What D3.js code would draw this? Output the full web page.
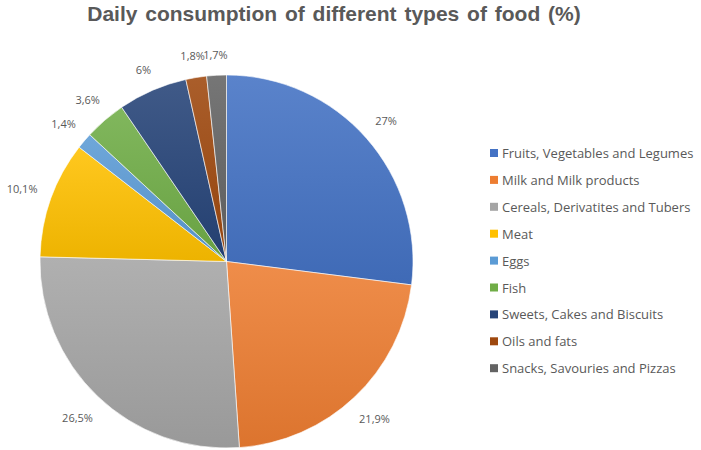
<!DOCTYPE html>
<html>
<head>
<meta charset="utf-8">
<script src="https://cdn.jsdelivr.net/npm/d3@7"></script>
<style>
  html, body { margin: 0; padding: 0; background: #ffffff; }
  svg { display: block; }
</style>
</head>
<body>
<svg id="chart" width="701" height="450"></svg>
<script>
// Food groups and their share of daily consumption (%)
const categories = [
  "Fruits, Vegetables and Legumes",
  "Milk and Milk products",
  "Cereals, Derivatites and Tubers",
  "Meat",
  "Eggs",
  "Fish",
  "Sweets, Cakes and Biscuits",
  "Oils and fats",
  "Snacks, Savouries and Pizzas"
];
const values = [27, 21.9, 26.5, 10.1, 1.4, 3.6, 6, 1.8, 1.7];
const valueLabels = ["27%", "21,9%", "26,5%", "10,1%", "1,4%", "3,6%", "6%", "1,8%", "1,7%"];
const colors = ["#4472C4", "#ED7D31", "#A5A5A5", "#FFC000", "#5B9BD5", "#70AD47", "#264478", "#9E480E", "#636363"];
const title = "Daily consumption of different types of food (%)";

const svg = d3.select("#chart");
const textColor = "#595959";

// Title
svg.append("text")
  .attr("x", 334)
  .attr("y", 21)
  .attr("text-anchor", "middle")
  .attr("font-family", "'Liberation Sans', Arial, sans-serif")
  .attr("font-weight", "bold")
  .attr("font-size", 21)
  .attr("word-spacing", 2)
  .attr("fill", textColor)
  .text(title);

const cx = 226.5, cy = 261.5, radius = 186.5;

// Vertical shading per slice: lighter at the top, darker at the bottom
const defs = svg.append("defs");
colors.forEach((c, i) => {
  const g = defs.append("linearGradient")
    .attr("id", "grad" + i)
    .attr("x1", 0).attr("y1", 0).attr("x2", 0).attr("y2", 1);
  g.append("stop").attr("offset", 0).attr("stop-color", d3.interpolateRgb(c, "#ffffff")(0.12));
  g.append("stop").attr("offset", 1).attr("stop-color", d3.interpolateRgb(c, "#000000")(0.07));
});

const pie = d3.pie().sort(null).value(d => d)(values);
const arc = d3.arc().innerRadius(0).outerRadius(radius);

const g = svg.append("g").attr("transform", `translate(${cx},${cy})`);

g.selectAll("path.slice")
  .data(pie)
  .join("path")
  .attr("class", "slice")
  .attr("d", arc)
  .attr("fill", (d, i) => `url(#grad${i})`)
  .attr("stroke", "#ffffff")
  .attr("stroke-width", 0.6);

// Outside-end value labels: the label box sits just outside the rim
const labels = g.selectAll("text.val")
  .data(pie)
  .join("text")
  .attr("class", "val")
  .attr("text-anchor", "middle")
  .attr("dominant-baseline", "central")
  .attr("font-family", "'Open Sans', sans-serif")
  .attr("font-size", 11)
  .attr("fill", textColor)
  .text((d, i) => valueLabels[i]);

labels.each(function(d) {
  const w = this.getComputedTextLength();
  const hw = w / 2, hh = 6;
  const a = (d.startAngle + d.endAngle) / 2;
  const s = Math.sin(a), c = Math.cos(a);
  const dist = radius + 14 + hw * Math.abs(s) + hh * Math.abs(c);
  d3.select(this).attr("x", dist * s).attr("y", -dist * c);
});

// Legend
const legend = svg.append("g").attr("transform", "translate(490,153)");
const rows = legend.selectAll("g")
  .data(categories)
  .join("g")
  .attr("transform", (d, i) => `translate(0,${i * 26.9})`);

rows.append("rect")
  .attr("x", 0).attr("y", -4)
  .attr("width", 8).attr("height", 8)
  .attr("fill", (d, i) => colors[i]);

rows.append("text")
  .attr("x", 12)
  .attr("y", 0)
  .attr("dominant-baseline", "central")
  .attr("font-family", "'Open Sans', sans-serif")
  .attr("font-size", 13)
  .attr("fill", textColor)
  .text(d => d);
</script>
</body>
</html>
